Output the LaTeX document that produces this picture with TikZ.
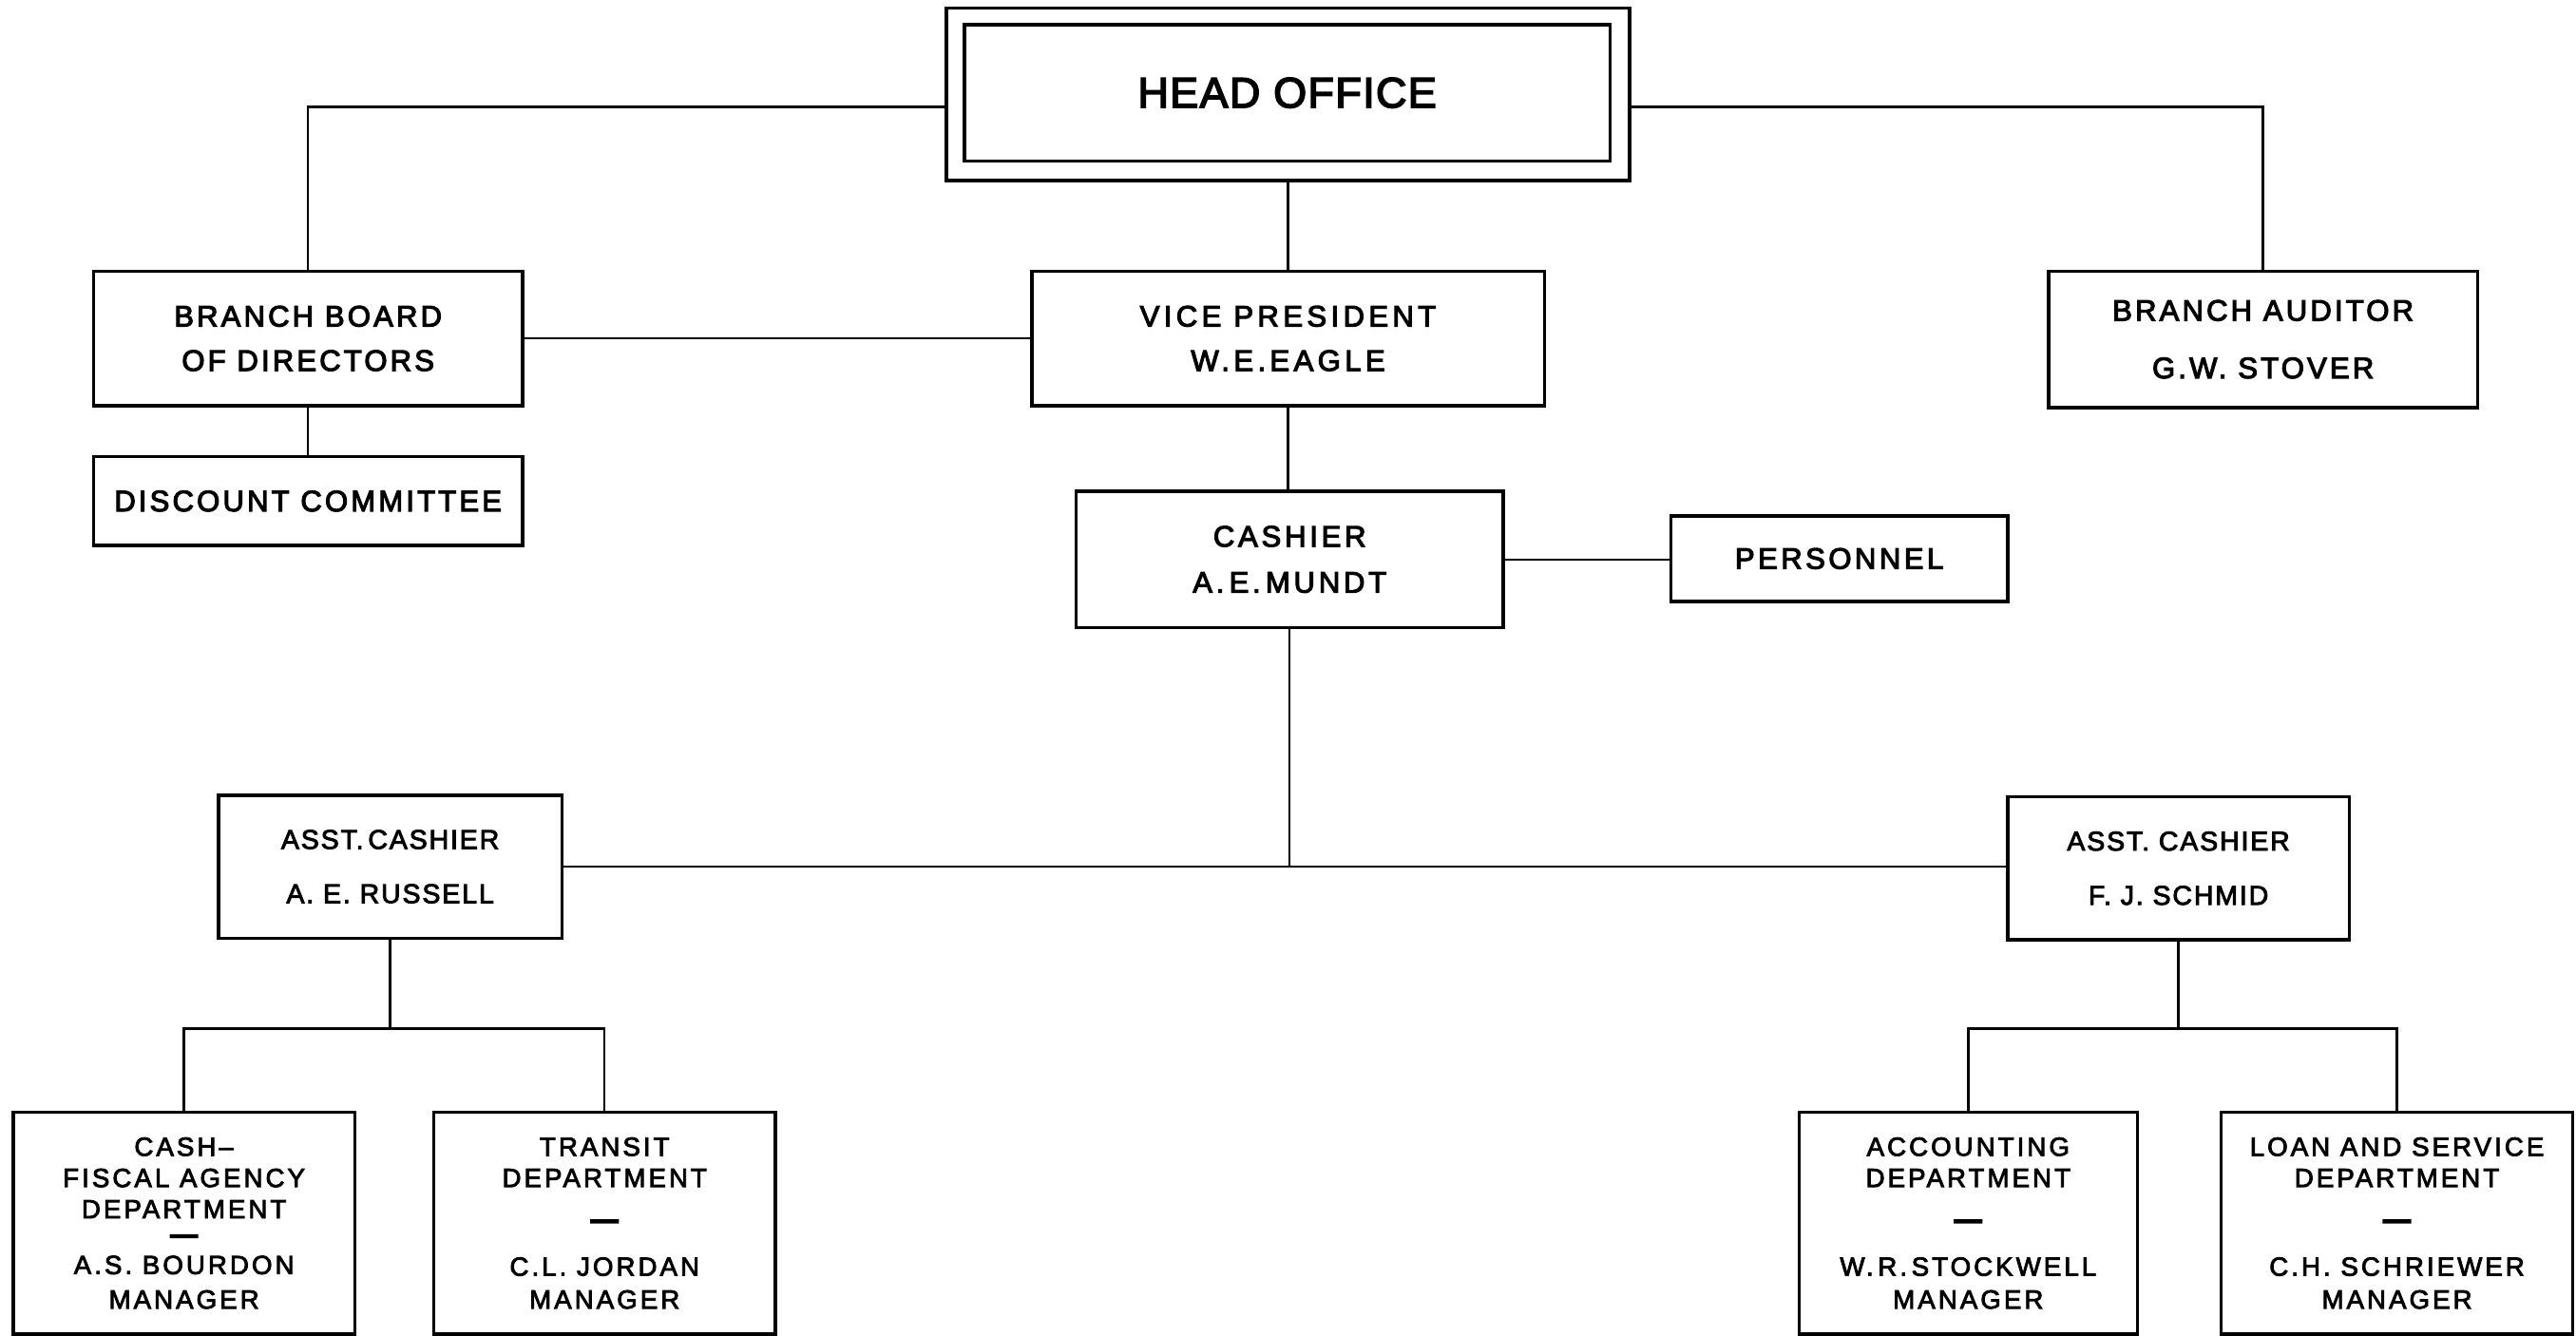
\documentclass[tikz,border=0pt]{standalone}
\usepackage{fontspec}
\setmainfont{Liberation Sans}
\newfontfamily\fhead[LetterSpace=3,FakeBold=3.5]{Liberation Sans}
\newfontfamily\ftop[FakeBold=3.5]{Liberation Sans}
\newfontfamily\fbot[FakeBold=3]{Liberation Sans}
\newfontfamily\fdash[FakeBold=9]{Liberation Sans}
\begin{document}
\begin{tikzpicture}[x=1pt,y=-1pt,
  box/.style={draw,line width=2pt,inner sep=0pt,align=center},
  conn/.style={line width=1.4pt},
  ttop/.style={font=\ftop\fontsize{18}{27}\selectfont\addfontfeature{LetterSpace=#1}},
  ttop/.default=10,
  tmid/.style={font=\fbot\fontsize{16.5}{33}\selectfont\addfontfeature{LetterSpace=6.5}},
  tbot/.style={font=\fbot\fontsize{16}{19}\selectfont\addfontfeature{LetterSpace=11}}]
\useasboundingbox (0,0) rectangle (1568,813);

% head office (double frame)
\node[box,minimum width=416pt,minimum height=105pt] (head) at (784,57.5) {};
\node[box,minimum width=393pt,minimum height=83pt,font=\fhead\fontsize{26}{30}\selectfont] (headin) at (783.5,56.5) {HEAD OFFICE};

% second level
\node[box,ttop,minimum width=261pt,minimum height=82pt] (bbd) at (187.5,206) {BRANCH BOARD\\OF DIRECTORS};
\node[box,ttop=14,minimum width=312pt,minimum height=82pt] (vp) at (784,206) {VICE PRESIDENT\\W.E.EAGLE};
\node[box,ttop,minimum width=261pt,minimum height=83pt] (aud) at (1377.5,206.5) {BRANCH AUDITOR\\[8pt]G.W. STOVER};
\node[box,ttop,minimum width=261pt,minimum height=54pt] (disc) at (187.5,305) {DISCOUNT COMMITTEE};

% cashier level
\node[box,ttop=12,minimum width=260pt,minimum height=83pt] (cash) at (785,340.5) {CASHIER\\[1pt]A.\,E.\,MUNDT};
\node[box,ttop=11,minimum width=205pt,minimum height=52pt] (pers) at (1119.5,340) {PERSONNEL};

% assistant cashiers
\node[box,tmid,minimum width=209pt,minimum height=87pt] (ac1) at (237.5,527.5) {ASST.\,CASHIER\\A. E. RUSSELL};
\node[box,tmid,minimum width=208pt,minimum height=87pt] (ac2) at (1326,528.5) {ASST. CASHIER\\F. J. SCHMID};

% departments
\node[box,tbot,minimum width=208pt,minimum height=135pt] (cfa) at (112,744.5)
  {CASH–\\FISCAL AGENCY\\DEPARTMENT\\[-4pt]{\fdash —}\\A.S. BOURDON\\[2pt]MANAGER};
\node[box,tbot,minimum width=208pt,minimum height=135pt] (tr) at (368,744.5)
  {TRANSIT\\DEPARTMENT\\[6pt]{\fdash —}\\[10pt]C.L. JORDAN\\[1pt]MANAGER};
\node[box,tbot,minimum width=206pt,minimum height=135pt] (acc) at (1198,744.5)
  {ACCOUNTING\\DEPARTMENT\\[6pt]{\fdash —}\\[10pt]W.\,R.\,STOCKWELL\\[1pt]MANAGER};
\node[box,tbot,minimum width=214pt,minimum height=135pt] (loan) at (1459,744.5)
  {LOAN AND SERVICE\\DEPARTMENT\\[6pt]{\fdash —}\\[10pt]C.H. SCHRIEWER\\[1pt]MANAGER};

% connectors
\draw[conn] ([yshift=-7.5pt]head.west) -| (bbd.north);
\draw[conn] ([yshift=-7.5pt]head.east) -| (aud.north);
\draw[conn] (head.south) -- (vp.north);
\draw[conn] (bbd.east) -- (vp.west);
\draw[conn] (bbd.south) -- (disc.north);
\draw[conn] (vp.south) -- (vp.south |- cash.north);
\draw[conn] (cash.east) -- (cash.east -| pers.west);
\draw[conn] (ac1.east) -- (ac1.east -| ac2.west);
\draw[conn] (cash.south) -- (cash.south |- ac1.east);

\path (ac1.south) ++(0,54) coordinate (bus1);
\draw[conn] (ac1.south) -- (bus1);
\draw[conn] (cfa.north) |- (bus1) -| (tr.north);

\path (ac2.south) ++(0,53) coordinate (bus2);
\draw[conn] (ac2.south) -- (bus2);
\draw[conn] (acc.north) |- (bus2) -| (loan.north);
\end{tikzpicture}
\end{document}
